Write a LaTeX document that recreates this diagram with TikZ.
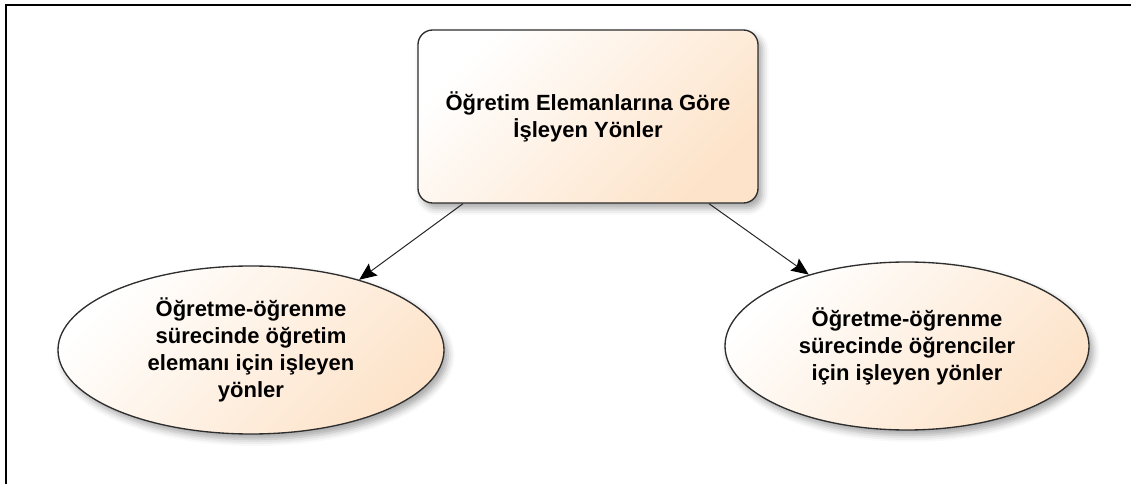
\documentclass[tikz,border=0pt]{standalone}
\usepackage{fontspec}
\setmainfont{Liberation Sans}
\usetikzlibrary{shapes.geometric,arrows.meta,shadows.blur}
\definecolor{peach}{HTML}{FDE3C9}
\definecolor{edge}{HTML}{2E2E2E}
\begin{document}
\begin{tikzpicture}[x=0.75pt,y=-0.75pt,
  label text/.style={font=\bfseries\fontsize{16.5}{20.25}\selectfont, text=black, align=center},
  soft shade/.style={shading=axis, top color=white, bottom color=peach, shading angle=45},
  soft shadow/.style={blur shadow={shadow xshift=3pt, shadow yshift=-4pt, shadow blur radius=5pt, shadow opacity=35}},
  headbox/.style={draw=edge, line width=1pt, rounded corners=11pt, soft shade, soft shadow,
    minimum width=255pt, minimum height=129.75pt, inner sep=0pt, label text},
  oval/.style={draw=edge, line width=1pt, ellipse, soft shade, soft shadow, inner sep=0pt, label text},
  link/.style={draw=black!85, line width=0.75pt,
    -{Stealth[length=13pt,width=11pt,inset=2pt,fill=black,color=black]}}
]
% page extent
\useasboundingbox (0,0) rectangle (1131,484);
% frame lines along the top and left edges
\draw[line width=1.5pt, black] (5.5,484) -- (5.5,5) -- (1131,5);

% top box
\node[headbox] (box) at (588,116.5) {Öğretim Elemanlarına Göre\\İşleyen Yönler};

% the two ovals
\node[oval, minimum width=289.5pt, minimum height=126pt] (L) at (251,350)
  {Öğretme-öğrenme\\sürecinde öğretim\\elemanı için işleyen\\yönler};
\node[oval, minimum width=273pt, minimum height=126pt] (R) at (907,346)
  {Öğretme-öğrenme\\sürecinde öğrenciler\\için işleyen yönler};

% connectors
\draw[link] ([xshift=-93.75pt]box.south) -- (L.33);
\draw[link] ([xshift=90.75pt]box.south) -- (R.144.6);
\end{tikzpicture}
\end{document}
